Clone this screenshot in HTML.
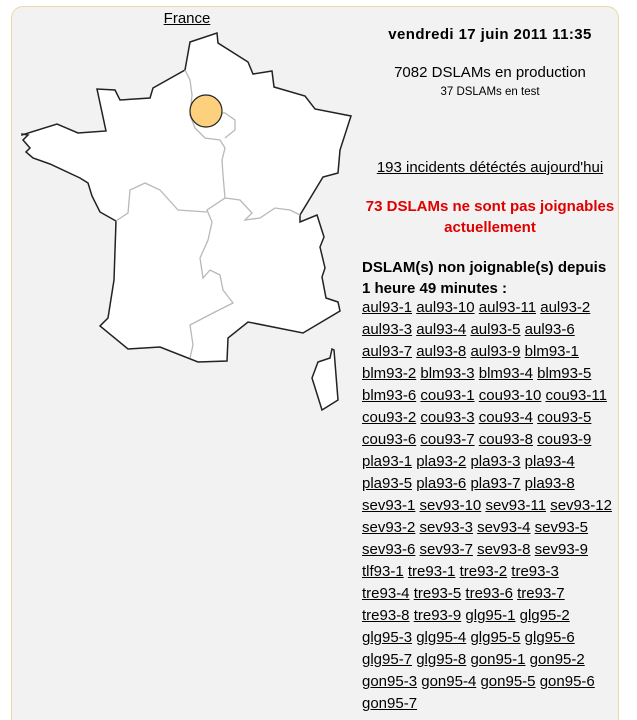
<!DOCTYPE html>
<html><head><meta charset="utf-8"><style>
html,body{margin:0;padding:0;background:#fff;width:637px;height:720px;overflow:hidden;font-family:"Liberation Sans","DejaVu Sans",sans-serif;color:#000}
#wrap{position:relative;width:637px;height:720px;overflow:hidden}
.panel{position:absolute;left:11px;top:6px;width:608px;height:714px;background:#f2f2f2;border:1px solid #ecd9a4;border-bottom:none;border-radius:12px 12px 0 0;box-sizing:border-box}
.t{position:absolute;white-space:nowrap}
.c{left:345px;width:290px;text-align:center}
a{color:#000;text-decoration:underline}
.row{position:absolute;left:362px;font-size:15px;white-space:nowrap;line-height:16px}
</style></head><body><div id="wrap">
<div class="panel"></div>
<svg style="position:absolute;left:0;top:0" width="360" height="420">
<polygon fill="#fff" stroke="#222" stroke-width="1.5" points="190,42 217,33 218,43 248,62 253,74 272,71 274,87 305,96 315,109 351,116 340,150 338,173 323,177 300,215 300,222 317,215 324,237 320,247 325,268 322,277 326,298 338,302 340,311 303,333 248,322 228,338 227,361 198,362 160,347 128,349 100,326 108,318 114,280 116,221 100,212 92,196 88,183 80,178 50,164 33,158 26,152 30,148 23,140 28,135 22,134 22,135 57,124 78,133 106,131 97,89 115,90 120,100 150,98 153,88 185,70"/>
<g fill="none" stroke="#b8b8b8" stroke-width="1.3">
<polyline points="185,70 190,80 192,95 190,115 195,128 205,138 220,140 225,148 222,160 223,175 225,198 207,210 212,222 208,240 200,258 203,278 210,270 220,275 223,290 233,303 215,312 190,325 193,345 190,358"/>
<polyline points="225,198 240,200 252,213 245,220 260,218 275,208 290,210 300,215"/>
<polyline points="116,221 128,213 130,190 145,183 160,190 178,210 207,212"/>
<polyline points="190,113 200,112 225,113 235,120 235,130 225,138"/>
</g>
<polygon fill="#fff" stroke="#222" stroke-width="1.5" points="332,349 334,350 338,400 322,410 312,378 318,362 330,358"/>
<circle cx="206" cy="111" r="16" fill="#fcd07c" stroke="#222" stroke-width="1.2"/>
</svg>
<div class="t" style="left:0;width:374px;text-align:center;top:10px;font-size:15px"><a>France</a></div>
<div class="t c" style="top:26px;font-size:15px;font-weight:bold;letter-spacing:0.4px">vendredi 17 juin 2011 11:35</div>
<div class="t c" style="top:64px;font-size:15px">7082 DSLAMs en production</div>
<div class="t c" style="top:86px;font-size:11.5px">37 DSLAMs en test</div>
<div class="t c" style="top:159px;font-size:15px"><a>193 incidents détéctés aujourd'hui</a></div>
<div class="t c" style="top:196px;font-size:15px;font-weight:bold;color:#e00000;line-height:21px">73 DSLAMs ne sont pas joignables<br>actuellement</div>
<div class="t" style="left:362px;top:257px;font-size:15px;font-weight:bold;line-height:21px">DSLAM(s) non joignable(s) depuis<br>1 heure 49 minutes :</div>
<div class="row" style="top:300px"><a>aul93-1</a> <a>aul93-10</a> <a>aul93-11</a> <a>aul93-2</a></div>
<div class="row" style="top:322px"><a>aul93-3</a> <a>aul93-4</a> <a>aul93-5</a> <a>aul93-6</a></div>
<div class="row" style="top:344px"><a>aul93-7</a> <a>aul93-8</a> <a>aul93-9</a> <a>blm93-1</a></div>
<div class="row" style="top:366px"><a>blm93-2</a> <a>blm93-3</a> <a>blm93-4</a> <a>blm93-5</a></div>
<div class="row" style="top:388px"><a>blm93-6</a> <a>cou93-1</a> <a>cou93-10</a> <a>cou93-11</a></div>
<div class="row" style="top:410px"><a>cou93-2</a> <a>cou93-3</a> <a>cou93-4</a> <a>cou93-5</a></div>
<div class="row" style="top:432px"><a>cou93-6</a> <a>cou93-7</a> <a>cou93-8</a> <a>cou93-9</a></div>
<div class="row" style="top:454px"><a>pla93-1</a> <a>pla93-2</a> <a>pla93-3</a> <a>pla93-4</a></div>
<div class="row" style="top:476px"><a>pla93-5</a> <a>pla93-6</a> <a>pla93-7</a> <a>pla93-8</a></div>
<div class="row" style="top:498px"><a>sev93-1</a> <a>sev93-10</a> <a>sev93-11</a> <a>sev93-12</a></div>
<div class="row" style="top:520px"><a>sev93-2</a> <a>sev93-3</a> <a>sev93-4</a> <a>sev93-5</a></div>
<div class="row" style="top:542px"><a>sev93-6</a> <a>sev93-7</a> <a>sev93-8</a> <a>sev93-9</a></div>
<div class="row" style="top:564px"><a>tlf93-1</a> <a>tre93-1</a> <a>tre93-2</a> <a>tre93-3</a></div>
<div class="row" style="top:586px"><a>tre93-4</a> <a>tre93-5</a> <a>tre93-6</a> <a>tre93-7</a></div>
<div class="row" style="top:608px"><a>tre93-8</a> <a>tre93-9</a> <a>glg95-1</a> <a>glg95-2</a></div>
<div class="row" style="top:630px"><a>glg95-3</a> <a>glg95-4</a> <a>glg95-5</a> <a>glg95-6</a></div>
<div class="row" style="top:652px"><a>glg95-7</a> <a>glg95-8</a> <a>gon95-1</a> <a>gon95-2</a></div>
<div class="row" style="top:674px"><a>gon95-3</a> <a>gon95-4</a> <a>gon95-5</a> <a>gon95-6</a></div>
<div class="row" style="top:696px"><a>gon95-7</a></div>
</div></body></html>
